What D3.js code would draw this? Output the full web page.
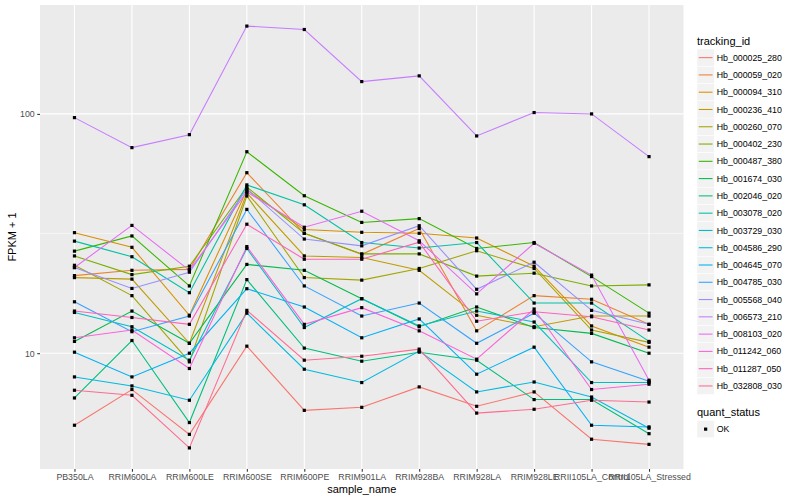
<!DOCTYPE html>
<html><head><meta charset="utf-8">
<script src="https://cdn.jsdelivr.net/npm/d3@7"></script>
<style>body{margin:0;background:#fff} text{font-family:"Liberation Sans",Arial,Helvetica,sans-serif}</style>
</head><body><svg id="c" width="800" height="500"></svg>
<script>
const samples = ["PB350LA","RRIM600LA","RRIM600LE","RRIM600SE","RRIM600PE","RRIM901LA","RRIM928BA","RRIM928LA","RRIM928LE","RRII105LA_Control","RRII105LA_Stressed"];
const trackingIds = ["Hb_000025_280","Hb_000059_020","Hb_000094_310","Hb_000236_410","Hb_000260_070","Hb_000402_230","Hb_000487_380","Hb_001674_030","Hb_002046_020","Hb_003078_020","Hb_003729_030","Hb_004586_290","Hb_004645_070","Hb_004785_030","Hb_005568_040","Hb_006573_210","Hb_008103_020","Hb_011242_060","Hb_011287_050","Hb_032808_030"];

const v000025_280 = [5.0, 7.05, 4.58, 10.7, 5.77, 5.94, 7.23, 6.0, 6.89, 4.37, 4.16];
const v000059_020 = [21.1, 22.2, 22.4, 56.8, 31.7, 25.9, 33.2, 12.4, 17.4, 16.8, 13.2];
const v000094_310 = [31.9, 27.7, 14.4, 48.1, 32.9, 32.0, 31.7, 30.3, 23.1, 13.0, 10.6];
const v000236_410 = [20.7, 20.4, 11.0, 46.7, 25.5, 25.1, 22.2, 14.4, 12.9, 14.3, 14.3];
const v000260_070 = [23.3, 17.4, 9.2, 45.4, 20.7, 20.2, 22.6, 26.8, 22.6, 12.5, 11.1];
const v000402_230 = [25.5, 21.3, 23.1, 49.5, 31.7, 26.0, 26.0, 21.0, 21.6, 19.1, 19.3];
const v000487_380 = [26.7, 30.9, 19.1, 69.5, 45.5, 35.2, 36.5, 27.4, 29.0, 20.9, 14.7];
const v001674_030 = [11.2, 15.0, 11.0, 23.5, 22.2, 16.9, 12.9, 15.6, 12.8, 12.1, 10.0];
const v002046_020 = [6.5, 11.3, 5.13, 20.3, 10.5, 9.26, 10.1, 9.35, 6.4, 6.4, 4.61];
const v003078_020 = [29.4, 25.3, 17.9, 50.5, 41.7, 29.0, 27.5, 29.0, 16.2, 16.2, 11.2];
const v003729_030 = [14.8, 12.9, 9.35, 27.4, 12.8, 16.9, 13.0, 15.0, 13.5, 7.54, 7.54];
const v004586_290 = [7.96, 7.3, 6.36, 14.7, 8.57, 7.54, 10.2, 6.89, 7.58, 6.56, 4.86];
const v004645_070 = [10.1, 7.96, 10.0, 18.6, 15.6, 11.6, 13.9, 8.17, 10.6, 5.0, 4.92];
const v004785_030 = [16.4, 12.3, 14.3, 39.9, 19.1, 14.3, 16.2, 11.0, 14.7, 9.2, 7.63];
const v005568_040 = [22.8, 18.65, 21.8, 48.6, 30.0, 28.1, 34.1, 18.5, 24.0, 15.1, 13.2];
const v006573_210 = [96.5, 72.3, 81.9, 232.8, 225.3, 136.5, 144.2, 80.9, 101.3, 100.0, 66.3];
const v008103_020 = [22.8, 34.2, 22.2, 47.2, 33.6, 39.2, 29.5, 17.7, 28.8, 21.2, 7.71];
const v011242_060 = [11.6, 12.5, 8.63, 27.9, 13.2, 15.5, 12.4, 9.44, 15.3, 7.05, 7.42];
const v011287_050 = [15.0, 14.1, 13.2, 34.6, 24.7, 24.7, 29.1, 13.6, 14.9, 14.2, 12.5];
const v032808_030 = [7.0, 6.67, 4.02, 15.1, 9.35, 9.71, 10.4, 5.62, 5.83, 6.36, 6.25];

const seriesValues = [v000025_280, v000059_020, v000094_310, v000236_410, v000260_070, v000402_230, v000487_380, v001674_030, v002046_020, v003078_020, v003729_030, v004586_290, v004645_070, v004785_030, v005568_040, v006573_210, v008103_020, v011242_060, v011287_050, v032808_030];
const yTickValues = [10, 100];
const quantStatus = ["OK"];

const palette = ["#F8766D","#EA8331","#D89000","#C09B00","#A3A500","#7CAE00","#39B600","#00BB4E","#00BF7D","#00C1A3","#00BFC4","#00BAE0","#00B0F6","#35A2FF","#9590FF","#C77CFF","#E76BF3","#FA62DB","#FF62BC","#FF6C91"];

const svg = d3.select("#c");
const P = {l: 40, r: 683.5, t: 5, b: 469};

svg.append("rect").attr("width", 800).attr("height", 500).attr("fill", "#fff");

const x = d3.scalePoint().domain(samples).range([P.l, P.r]).padding(0.6);
const all = seriesValues.flat();
const lmin = Math.log10(d3.min(all)), lmax = Math.log10(d3.max(all));
const ex = (lmax - lmin) * 0.05;
const y = d3.scaleLog().domain([Math.pow(10, lmin - ex), Math.pow(10, lmax + ex)]).range([P.b, P.t]);
const color = d3.scaleOrdinal().domain(trackingIds).range(palette);

// panel
svg.append("rect").attr("x", P.l).attr("y", P.t).attr("width", P.r - P.l).attr("height", P.b - P.t).attr("fill", "#EBEBEB");

// minor grid (geometric midpoints of majors)
const minor = [];
for (let i = 0; i < yTickValues.length - 1; i++) minor.push(Math.sqrt(yTickValues[i] * yTickValues[i + 1]));
const g = svg.append("g");
g.selectAll(".mn").data(minor).join("line")
  .attr("x1", P.l).attr("x2", P.r).attr("y1", d => y(d)).attr("y2", d => y(d))
  .attr("stroke", "#fff").attr("stroke-width", 0.55);
g.selectAll(".mj").data(yTickValues).join("line")
  .attr("x1", P.l).attr("x2", P.r).attr("y1", d => y(d)).attr("y2", d => y(d))
  .attr("stroke", "#fff").attr("stroke-width", 1.1);
g.selectAll(".vx").data(samples).join("line")
  .attr("x1", d => x(d)).attr("x2", d => x(d)).attr("y1", P.t).attr("y2", P.b)
  .attr("stroke", "#fff").attr("stroke-width", 1.1);

// axes
const xAxis = svg.append("g").attr("transform", `translate(0,${P.b})`)
  .call(d3.axisBottom(x).tickSize(2.75).tickPadding(2.5));
const yAxis = svg.append("g").attr("transform", `translate(${P.l},0)`)
  .call(d3.axisLeft(y).tickValues(yTickValues).tickFormat(d3.format("d")).tickSize(2.75).tickPadding(2.5));
[xAxis, yAxis].forEach(a => {
  a.select(".domain").remove();
  a.selectAll(".tick line").attr("stroke", "#333333").attr("stroke-width", 1.07);
  a.selectAll(".tick text").attr("fill", "#4D4D4D").style("font-size", "8.8px")
    .style("font-family", '"Liberation Sans",Arial,sans-serif');
});

// lines
const line = d3.line().x((d, i) => x(samples[i])).y(d => y(d));
svg.append("g").selectAll("path").data(seriesValues).join("path")
  .attr("d", d => line(d)).attr("fill", "none")
  .attr("stroke", (d, i) => color(trackingIds[i])).attr("stroke-width", 1.07);

// points
const pts = [];
seriesValues.forEach((s, si) => s.forEach((v, i) => pts.push({s: samples[i], v})));
svg.append("g").selectAll("rect").data(pts).join("rect")
  .attr("x", d => x(d.s) - 1.6).attr("y", d => y(d.v) - 1.6)
  .attr("width", 3.2).attr("height", 3.2).attr("fill", "#000");

// axis titles
svg.append("text").attr("x", (P.l + P.r) / 2).attr("y", 492.5).attr("text-anchor", "middle")
  .style("font-size", "11px").attr("fill", "#000").text("sample_name");
svg.append("text").attr("transform", `translate(15.5,${(P.t + P.b) / 2}) rotate(-90)`).attr("text-anchor", "middle")
  .style("font-size", "11px").attr("fill", "#000").text("FPKM + 1");

// legend tracking_id
const lx = 697, kh = 17.28;
svg.append("text").attr("x", lx).attr("y", 45).style("font-size", "11px").text("tracking_id");
const lg = svg.append("g").selectAll("g").data(trackingIds).join("g")
  .attr("transform", (d, i) => `translate(${lx},${49 + i * kh})`);
lg.append("rect").attr("width", kh).attr("height", kh).attr("fill", "#F2F2F2").attr("stroke", "#fff").attr("stroke-width", 0.5);
lg.append("line").attr("x1", kh * 0.1).attr("x2", kh * 0.9).attr("y1", kh / 2).attr("y2", kh / 2)
  .attr("stroke", d => color(d)).attr("stroke-width", 1.07);
lg.append("text").attr("x", kh + 2.5).attr("y", kh / 2 + 3.1).style("font-size", "8.8px").attr("fill", "#000").text(d => d);

// legend quant_status
svg.append("text").attr("x", lx).attr("y", 416).style("font-size", "11px").text("quant_status");
const qg = svg.append("g").selectAll("g").data(quantStatus).join("g")
  .attr("transform", (d, i) => `translate(${lx},${420.5 + i * kh})`);
qg.append("rect").attr("width", kh).attr("height", kh).attr("fill", "#F2F2F2").attr("stroke", "#fff").attr("stroke-width", 0.5);
qg.append("rect").attr("x", kh / 2 - 1.6).attr("y", kh / 2 - 1.6).attr("width", 3.2).attr("height", 3.2).attr("fill", "#000");
qg.append("text").attr("x", kh + 2.5).attr("y", kh / 2 + 3.1).style("font-size", "8.8px").attr("fill", "#000").text(d => d);
</script></body></html>
